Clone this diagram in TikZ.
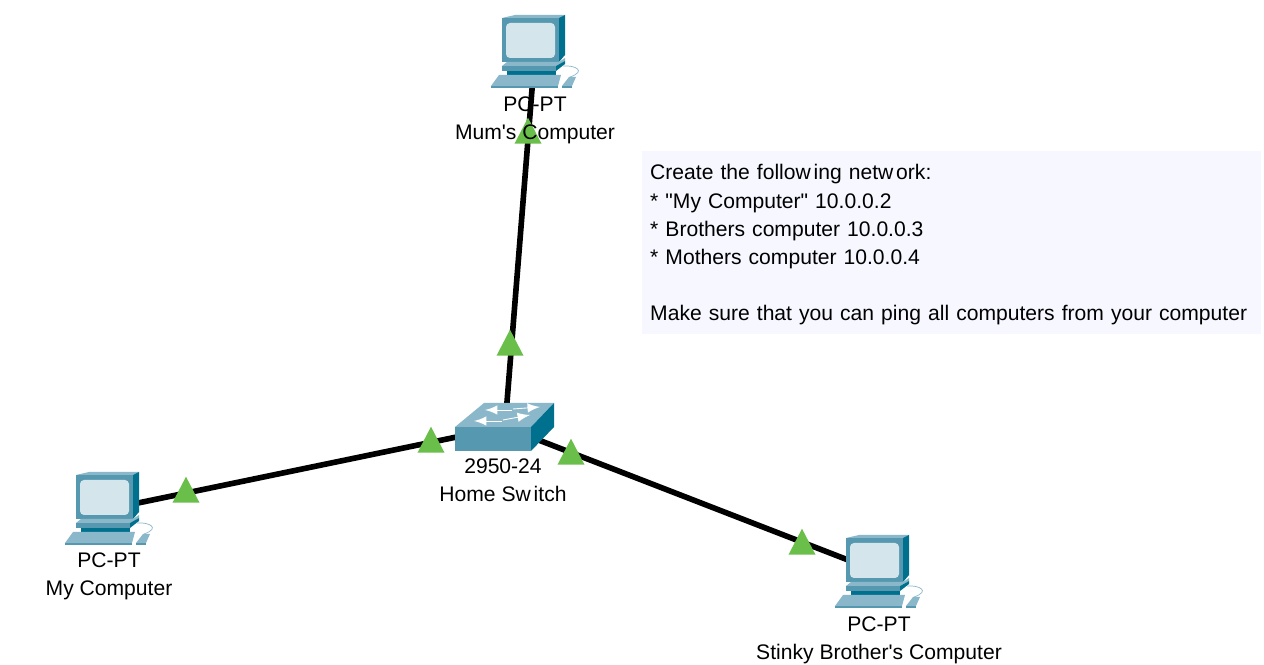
\documentclass[tikz,border=0pt]{standalone}
\usepackage{fontspec}
\setmainfont[Ligatures=TeXOff]{Liberation Sans}
\usetikzlibrary{arrows,shapes.geometric}
\definecolor{iconlight}{HTML}{8AB8CA}
\definecolor{iconmid}{HTML}{5598B0}
\definecolor{icondark}{HTML}{00708F}
\definecolor{iconscreen}{HTML}{D5E5EC}
\definecolor{linkgreen}{HTML}{6ABF4B}
\definecolor{notefill}{HTML}{F7F8FF}
\tikzset{
	devnode/.style = {
		circle,
		inner sep = 0pt,
		minimum size = 1mm,
	},
	devlabel/.style = {
		align = center,
		font = \fontsize{6pt}{7.97pt}\selectfont,
		inner sep = 0pt,
	},
	linkline/.style = {
		line width = 1.6pt,
		black,
	},
	linkmark/.style = {
		isosceles triangle,
		isosceles triangle stretches,
		shape border rotate = 90,
		minimum width = 0.27cm,
		minimum height = 0.26cm,
		inner sep = 0pt,
		fill = linkgreen,
	},
	notebox/.style = {
		rectangle,
		anchor = north west,
		fill = notefill,
		minimum width = 6.18cm,
		minimum height = 1.83cm,
		inner sep = 0pt,
	},
	notetext/.style = {
		rectangle,
		align = left,
		anchor = north west,
		inner sep = 0pt,
		text width = 6.1cm,
		font = \fontsize{6pt}{7.97pt}\selectfont,
	},
	pics/pcicon/.style = {
		code = {
			\begin{scope}[shift = {(-44,-37)}]
				\fill[iconlight] (11,3) -- (24,0) -- (74,0) -- (68,3) -- cycle;
				\fill[icondark] (68,3) -- (74,0) -- (74,40) -- (68,47) -- cycle;
				\fill[iconmid] (11,3) rectangle (68,47);
				\fill[iconscreen, rounded corners = 0.04cm] (15,8) rectangle (64,43);
				\fill[iconlight] (11,51) -- (16,47) -- (68,47) -- (74,43) -- (74,46) -- (65,51) -- cycle;
				\fill[iconmid] (11,51) rectangle (65,56);
				\fill[icondark] (65,56) -- (74,49) -- (74,46) -- (65,51) -- cycle;
				\fill[icondark] (16,56) rectangle (65,60);
				\fill[iconlight] (0,71) -- (8,60) -- (70,60) -- (67,71) -- cycle;
				\fill[iconmid] (0,71) rectangle (67,73);
				\fill[iconlight] (71,71) -- (78,62) -- (85,62) -- (81,71) -- cycle;
				\fill[iconmid] (71,71) rectangle (81,73);
				\draw[iconlight, line width = 0.2pt] (72,51) .. controls (84,50) and (96,56) .. (79,62);
			\end{scope}
		}
	},
	pics/switchicon/.style = {
		code = {
			\fill[iconlight] (-50,0) -- (-21,-24) -- (49,-24) -- (26,0) -- cycle;
			\fill[iconmid] (-50,0) rectangle (26,24);
			\fill[icondark] (26,0) -- (49,-24) -- (49,0) -- (26,24) -- cycle;
			\draw[white, line width = 0.25pt, -latex] (7,-17) -- (-20,-17);
			\draw[white, line width = 0.25pt, -latex] (8,-18) -- (35,-20);
			\draw[white, line width = 0.25pt, -latex] (-3,-6) -- (-31,-6);
			\draw[white, line width = 0.25pt, -latex] (-2,-7) -- (25,-12);
		}
	}
}
\begin{document}
\begin{tikzpicture}[x = 0.01cm, y = -0.01cm]
	\useasboundingbox (0,0) rectangle (1264,665);
	\node[notebox](note) at (641.5,150) {};
	\node[devnode](switch) at (505,427) {};
	\node[devnode](mumpc) at (535,52) {};
	\node[devnode](mypc) at (109,509) {};
	\node[devnode](brotherpc) at (879,572) {};

	\draw[linkline](switch)--(mumpc);
	\draw[linkline](switch)--(mypc);
	\draw[linkline](switch)--(brotherpc);

	\pic at (mumpc) {pcicon};
	\pic at (mypc) {pcicon};
	\pic at (brotherpc) {pcicon};
	\pic at (switch) {switchicon};

	\node[linkmark](mummark) at (528,135.5) {};
	\node[linkmark](upmark) at (510,347.5) {};
	\node[linkmark](leftmark) at (431,444.5) {};
	\node[linkmark](rightmark) at (571,456.5) {};
	\node[linkmark](mymark) at (186,494.5) {};
	\node[linkmark](brothermark) at (802,546.5) {};

	\node[devlabel](mumlabel) at (535,120) {PC-PT\\Mum's Computer};
	\node[devlabel](switchlabel) at (503,480) {2950-24\\Home Sw\kern0.8pt itch};
	\node[devlabel](mylabel) at (109,576) {PC-PT\\My Computer};
	\node[devlabel](brotherlabel) at (879,640) {PC-PT\\Stinky Brother's Computer};
	\node[notetext](notemsg) at (649.5,164) {Create the follow\kern0.8pt ing netw\kern0.8pt ork:\\{*} "My Computer" 10.0.0.2\\{*} Brothers computer 10.0.0.3\\{*} Mothers computer 10.0.0.4\\[7.97pt]Make sure that you can ping all computers from your computer};
\end{tikzpicture}
\end{document}
